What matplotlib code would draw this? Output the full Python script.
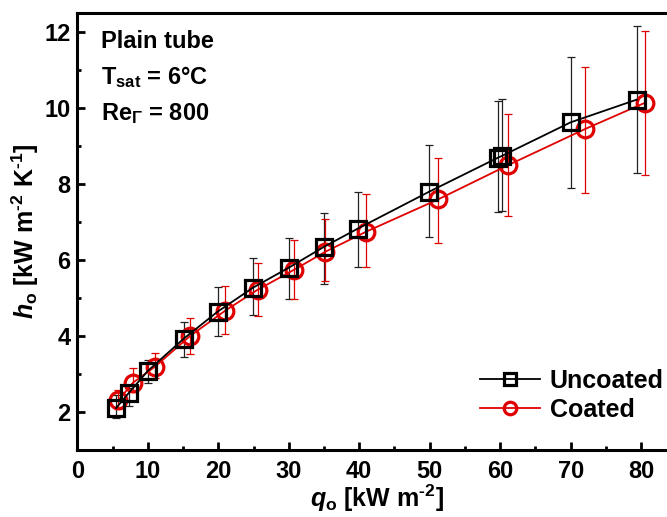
import numpy as np
import matplotlib
matplotlib.use('Agg')
import matplotlib.pyplot as plt
from matplotlib.ticker import MultipleLocator

plt.rcParams['font.family'] = ['Liberation Sans', 'DejaVu Sans']
plt.rcParams['font.weight'] = 'bold'
plt.rcParams['mathtext.fontset'] = 'custom'
plt.rcParams['mathtext.rm'] = 'Liberation Sans:bold'
plt.rcParams['mathtext.it'] = 'Liberation Sans:bold:italic'
plt.rcParams['mathtext.bf'] = 'Liberation Sans:bold'

# uncoated tube: q_o [kW m-2], h_o [kW m-2 K-1], error bar limits
q_unc = [5.5, 7.3, 10.0, 15.1, 19.9, 24.9, 30.0, 35.0, 39.8, 49.9, 59.7, 60.3, 70.0, 79.4]
h_unc = [2.10, 2.50, 3.08, 3.93, 4.64, 5.27, 5.80, 6.35, 6.83, 7.80, 8.70, 8.75, 9.63, 10.23]
lo_unc = [1.84, 2.16, 2.77, 3.45, 4.00, 4.56, 4.98, 5.38, 5.83, 6.62, 7.26, 7.30, 7.91, 8.30]
hi_unc = [2.45, 2.63, 3.37, 4.37, 5.30, 6.06, 6.59, 7.25, 7.80, 9.02, 10.18, 10.25, 11.34, 12.16]

# coated tube
q_coat = [5.8, 7.9, 11.0, 16.0, 21.0, 25.6, 30.8, 35.2, 41.0, 51.2, 61.1, 72.0, 80.6]
h_coat = [2.30, 2.77, 3.19, 4.00, 4.67, 5.22, 5.75, 6.22, 6.75, 7.60, 8.50, 9.45, 10.15]
lo_coat = [2.08, 2.53, 2.90, 3.53, 4.06, 4.53, 4.98, 5.46, 5.82, 6.46, 7.15, 7.78, 8.25]
hi_coat = [2.58, 3.16, 3.55, 4.48, 5.32, 5.93, 6.54, 7.09, 7.75, 8.70, 9.86, 11.10, 12.03]

RED = '#e00000'


def yerr(h, lo, hi):
    h, lo, hi = map(np.asarray, (h, lo, hi))
    return np.vstack([h - lo, hi - h])


fig = plt.figure(figsize=(6.67, 5.17), dpi=100)
ax = fig.add_axes([0.116, 0.13, 0.898, 0.844])

# error bars first (thin), then lines with markers on top
ax.errorbar(q_unc, h_unc, yerr=yerr(h_unc, lo_unc, hi_unc), fmt='none',
            ecolor='#222222', elinewidth=0.9, capsize=3, capthick=0.9, zorder=2)
ax.errorbar(q_coat, h_coat, yerr=yerr(h_coat, lo_coat, hi_coat), fmt='none',
            ecolor=RED, elinewidth=0.9, capsize=3, capthick=0.9, zorder=2)
ax.plot(q_coat, h_coat, '-', color=RED, lw=1.3, marker='o', ms=12,
        mfc='none', mec=RED, mew=2.3, label='Coated', zorder=3)
ax.plot(q_unc, h_unc, '-', color='black', lw=1.3, marker='s', ms=11,
        mfc='none', mec='black', mew=2.3, label='Uncoated', zorder=4)

ax.set_xlim(0, 85)
ax.set_ylim(1, 12.5)
ax.xaxis.set_major_locator(MultipleLocator(10))
ax.xaxis.set_minor_locator(MultipleLocator(5))
ax.yaxis.set_major_locator(MultipleLocator(2))
ax.yaxis.set_minor_locator(MultipleLocator(1))
ax.tick_params(which='both', direction='in', width=2, labelsize=17)
ax.tick_params(which='major', length=6, pad=5)
ax.tick_params(axis='x', which='major', pad=7)
ax.tick_params(which='minor', length=3)
ax.tick_params(top=False, right=False)
for s in ax.spines.values():
    s.set_linewidth(2.2)
ax.spines['right'].set_visible(False)
for lab in ax.get_xticklabels() + ax.get_yticklabels():
    lab.set_fontweight('bold')

ax.set_xlabel(r'$\mathit{q}_{\mathrm{o}}$ [kW m$^{\text{-2}}$]', fontsize=18,
              fontweight='bold', labelpad=0)
ax.set_ylabel(r'$\mathit{h}_{\mathrm{o}}$ [kW m$^{\text{-2}}$ K$^{\text{-1}}$]',
              fontsize=18, fontweight='bold', labelpad=2)

ax.text(0.04, 0.962, 'Plain tube', transform=ax.transAxes, fontsize=17,
        fontweight='bold', va='top')
ax.text(0.04, 0.885, r'T$_{\mathrm{sat}}$ = 6$\degree$C', transform=ax.transAxes,
        fontsize=17, fontweight='bold', va='top')
ax.text(0.04, 0.80, r'Re$_{\mathit{Γ}}$ = 800', transform=ax.transAxes,
        fontsize=17, fontweight='bold', va='top')

h, l = ax.get_legend_handles_labels()
ax.legend(h[::-1], l[::-1], loc='lower right', bbox_to_anchor=(1.0, 0.035),
          frameon=False, fontsize=18, handlelength=2.4, handletextpad=0.4,
          labelspacing=0.2, borderaxespad=0.1, markerscale=0.75)

fig.savefig('out.png', dpi=100)
